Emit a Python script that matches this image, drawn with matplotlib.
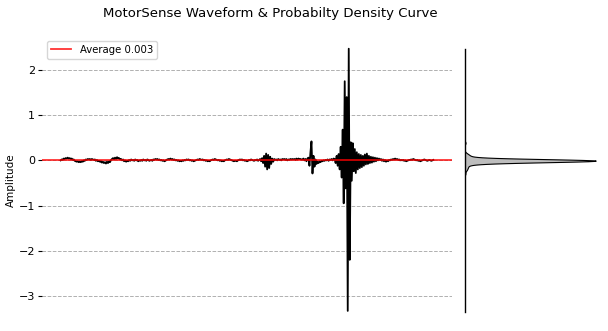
import numpy as np
import matplotlib
matplotlib.use("Agg")
import matplotlib.pyplot as plt

# ---- data (amplitude samples) ----
quiet_start = [
    0.00, 0.02, 0.01, 0.04, 0.03, 0.05, 0.04, 0.06, 0.04, 0.05,
    0.03, 0.04, 0.01, 0.02, -0.01, -0.02, -0.03, -0.02, -0.04, -0.03,
    -0.04, -0.02, -0.03, 0.00, -0.01, 0.02, 0.01, 0.03, 0.02, 0.03,
    0.01, 0.03, 0.02, 0.01, 0.02, -0.01, 0.01, -0.02, -0.01, -0.03,
    -0.02, -0.05, -0.03, -0.06, -0.04, -0.07, -0.03, -0.06, -0.02, -0.04,
    0.01, 0.03, 0.05, 0.02, 0.06, 0.03, 0.07, 0.04, 0.05, 0.02,
    0.03, 0.00, 0.02, -0.02, 0.00, -0.03, -0.01, -0.02, 0.01, -0.01,
    0.02, 0.00, 0.01, -0.01, 0.02, 0.00, 0.01, -0.02, 0.00, -0.01,
    0.01, -0.01, 0.02, 0.00, 0.01, -0.01, 0.02, 0.01, -0.01, 0.00,
]
quiet_middle = [
    0.01, -0.01, 0.02, 0.01, 0.03, 0.02, 0.03, 0.01, 0.02, 0.00,
    0.01, -0.01, 0.00, -0.02, -0.01, 0.01, 0.02, 0.03, 0.02, 0.04,
    0.02, 0.03, 0.01, 0.02, 0.00, 0.01, -0.01, 0.00, -0.02, -0.01,
    -0.02, 0.00, -0.01, 0.01, 0.00, 0.02, 0.01, 0.02, 0.00, 0.01,
    -0.01, 0.00, -0.02, -0.01, 0.00, 0.01, 0.02, 0.01, 0.03, 0.02,
    0.01, 0.02, 0.00, 0.01, -0.01, 0.00, -0.02, -0.01, -0.02, 0.00,
    0.01, 0.02, 0.01, 0.03, 0.02, 0.01, 0.00, 0.01, -0.01, 0.00,
    -0.02, -0.01, -0.02, 0.00, 0.01, 0.02, 0.01, 0.03, 0.02, 0.01,
    0.00, -0.01, -0.02, -0.01, -0.01, -0.02, 0.00, 0.01, 0.02, 0.01,
    0.02, 0.00, 0.01, -0.01, 0.00, -0.02, -0.01, 0.01, 0.00, 0.02,
    0.01, 0.00, -0.01, 0.01,
]
pre_events = [
    0.00, 0.02, -0.01, 0.01, 0.03, -0.02,
    0.05, -0.06, 0.10, -0.14, 0.15, -0.20, 0.12, -0.17, 0.08, -0.08,
    0.04, -0.03, 0.03, 0.01, 0.02, 0.00, 0.03, 0.01, 0.02, 0.00,
    0.03, 0.02, 0.03, 0.01, 0.03, 0.00, 0.02, 0.01, 0.03, 0.02,
    0.03, 0.02, 0.03, 0.01, 0.04, 0.02, 0.04, 0.03, 0.03, 0.02,
    0.02, 0.04, 0.00, 0.03, -0.02, 0.04, 0.06, -0.12, 0.18, 0.42,
    -0.29, 0.10, -0.14, 0.02, -0.08, -0.03, -0.06, -0.02, -0.04, -0.01,
    -0.02, 0.00, -0.01, 0.01, 0.00, 0.02, -0.01, 0.02, 0.01, 0.03,
    0.00, 0.04,
]
main_burst = [
    0.03, -0.06, 0.10, -0.12, 0.14, -0.20, 0.30, -0.38, 0.68, -0.95,
    1.75, -0.62, 1.40, -3.33, 2.47, -2.20, 0.40, -0.45, 0.38, -0.24,
    0.25, -0.28, 0.18, -0.20, 0.14, -0.17, 0.12,
]
decay_tail = [
    -0.15, 0.10, -0.12, 0.13, -0.09, 0.15, -0.08, 0.10, -0.06, 0.08,
    -0.05, 0.07, -0.03, 0.06, -0.02, 0.05, 0.00, 0.04, 0.01, 0.03,
    -0.01, 0.02, -0.02, 0.01, -0.03, 0.00, -0.02, 0.01, 0.00, 0.02,
    0.01, 0.03, 0.02, 0.04, 0.02, 0.03, 0.01, 0.02, 0.00, 0.01,
    0.00, 0.01, -0.01, 0.00, -0.02, -0.01, 0.00, 0.01, 0.01, 0.02,
    0.01, 0.03, 0.02, 0.01, 0.00, 0.01, -0.01, 0.00, -0.02, -0.01,
    0.00, 0.01, 0.02, 0.01, 0.00, -0.01, 0.00, 0.01, 0.00, -0.01,
    0.00, 0.01,
]
y_ticks = [-3, -2, -1, 0, 1, 2]
title_text = "MotorSense Waveform & Probabilty Density Curve"
kde_bandwidth = 0.028

signal = np.array(quiet_start + quiet_middle + pre_events + main_burst + decay_tail)
t = np.arange(len(signal))
avg = signal.mean()

fig = plt.figure(figsize=(6.08, 3.31), dpi=100)
W, H = 608.0, 331.0

ax = fig.add_axes([42 / W, 1 - 324 / H, 410 / W, (324 - 35.6) / H])
ax.plot(t, signal, color="black", lw=1.3, zorder=2)
ax.axhline(avg, color="red", alpha=0.8, lw=1.3, label=f"Average {avg:.3f}", zorder=3)
for s in ax.spines.values():
    s.set_visible(False)
ax.set_xticks([])
ax.set_yticks(y_ticks)
ax.tick_params(axis="y", length=3, width=0.8, labelsize=8, pad=2)
ax.grid(axis="y", linestyle="--", color="#b0b0b0", lw=0.7, zorder=0)
ax.set_ylabel("Amplitude", fontsize=7.5)
ax.yaxis.set_label_coords(-0.063, 0.5)
ax.legend(loc="upper left", fontsize=7.3, frameon=True, handlelength=2.0,
          borderaxespad=0.5)

# density panel
grid = np.linspace(signal.min(), signal.max(), 800)
dens = np.exp(-0.5 * ((grid[:, None] - signal[None, :]) / kde_bandwidth) ** 2).sum(axis=1)
dens /= (len(signal) * kde_bandwidth * np.sqrt(2 * np.pi))

ax2 = fig.add_axes([465 / W, 1 - 312 / H, 132 / W, (312 - 49) / H])
ax2.fill_betweenx(grid, 0, dens, facecolor="#bdbdbd", edgecolor="black", lw=0.8)
ax2.set_ylim(signal.min(), signal.max())
ax2.set_xlim(dens.max() * 0.006, dens.max() * 1.01)
for k in ["top", "right", "bottom"]:
    ax2.spines[k].set_visible(False)
ax2.spines["left"].set_linewidth(1.0)
ax2.spines["left"].set_zorder(5)
ax2.set_xticks([])
ax2.set_yticks([])

fig.text(270 / W, 1 - 14 / H, title_text, ha="center", va="center", fontsize=9.5)

fig.savefig("out.png", dpi=100)
